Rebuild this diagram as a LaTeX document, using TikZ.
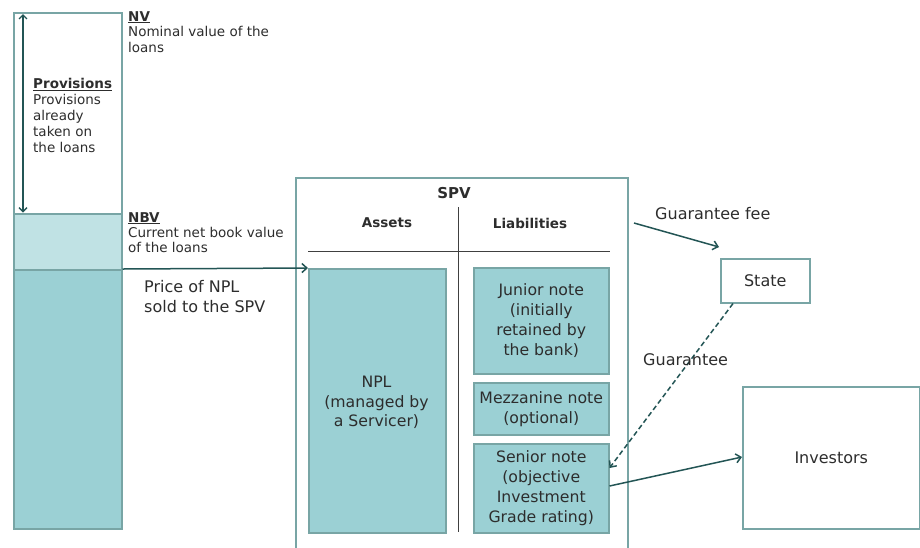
\documentclass[tikz,border=0pt]{standalone}
\usepackage{fontspec}
\setmainfont{DejaVu Sans}
\usetikzlibrary{arrows.meta}
\definecolor{tealfill}{RGB}{155,208,212}
\definecolor{lightfill}{RGB}{192,226,228}
\definecolor{bordercol}{RGB}{120,165,165}
\definecolor{arrowcol}{RGB}{35,85,85}
\definecolor{txt}{RGB}{45,45,45}
\tikzset{
  box/.style={draw=bordercol, line width=1.5pt, anchor=north west, inner sep=0pt, text=txt},
  note/.style={box, fill=tealfill, align=center, font=\fontsize{15.7}{20}\selectfont},
  small/.style={anchor=north west, inner sep=0pt, align=left, text=txt, font=\fontsize{13.5}{15.7}\selectfont},
  big/.style={anchor=north west, inner sep=0pt, align=left, text=txt, font=\fontsize{16}{20}\selectfont},
  head/.style={inner sep=0pt, text=txt, font=\bfseries\fontsize{13.5}{15}\selectfont},
  flow/.style={draw=arrowcol, line width=1.5pt, -{Straight Barb[length=5pt,width=9pt]}},
}
\begin{document}
\begin{tikzpicture}[x=1pt,y=-1pt]
\useasboundingbox (0,0) rectangle (920,547);
% left column
\node[box, minimum width=108, minimum height=201] (prov) at (13,12) {};
\node[box, fill=lightfill, minimum width=108, minimum height=56] (nbv) at (13,213) {};
\node[box, fill=tealfill, minimum width=108, minimum height=259] (bank) at (13,269) {};
\draw[draw=arrowcol, line width=1.4pt, {Straight Barb[length=4pt,width=8pt]}-{Straight Barb[length=4pt,width=8pt]}]
  ([xshift=10pt,yshift=-2pt]prov.north west) coordinate (pa) -- ([xshift=10pt,yshift=2pt]prov.south west) coordinate (pb);
\node[small] (nvt) at (128,11) {\textbf{\underline{NV}}\\Nominal value of the\\loans};
\node[small, font=\fontsize{13.5}{16}\selectfont] (provt) at (33,78) {\textbf{\underline{Provisions}}\\Provisions\\already\\taken on\\the loans};
\node[small, font=\fontsize{13.5}{15}\selectfont] (nbvt) at (128,212) {\textbf{\underline{NBV}}\\Current net book value\\of the loans};
% SPV
\node[box, minimum width=332, minimum height=390] (spv) at (295,177) {};
\node[head, font=\bfseries\fontsize{15}{17}\selectfont] (spvt) at (454,193) {SPV};
\node[head] (assets) at (387,223) {Assets};
\node[head] (liab) at (530,223) {Liabilities};
\coordinate (vt) at (458,207);
\coordinate (vb) at (458,532);
\coordinate (hl) at (308,251);
\coordinate (hr) at (610,251);
\draw[line width=0.8pt, black!75] (vt) -- (vb);
\draw[line width=0.8pt, black!75] (hl) -- (hr);
\node[note, minimum width=137, minimum height=264] (npl) at (308,268) {};
\node[text=txt, align=center, font=\fontsize{15.7}{19.5}\selectfont, anchor=north, inner sep=0pt] (nplt) at (376.5,376) {NPL\\(managed by\\a Servicer)};
\node[note, minimum width=135, minimum height=106] (jun) at (473,267) {Junior note\\(initially\\retained by\\the bank)};
\node[note, minimum width=135, minimum height=52] (mez) at (473,382) {Mezzanine note\\(optional)};
\node[note, minimum width=135, minimum height=89] (sen) at (473,443) {Senior note\\(objective\\Investment\\Grade rating)};
% right
\node[box, align=center, minimum width=89, minimum height=44, font=\fontsize{16}{18}\selectfont] (state) at (720,258) {State};
\node[box, align=center, minimum width=177, minimum height=142, font=\fontsize{16}{18}\selectfont] (inv) at (742,386) {Investors};
% arrows
\draw[flow] (bank.north east) -- (npl.north west);
\node[big] (price) at (144,280) {Price of NPL\\sold to the SPV};
\coordinate (gfs) at (634,223);
\coordinate (gfe) at (719,247);
\draw[flow] (gfs) -- (gfe);
\node[big] (gft) at (655,207) {Guarantee fee};
\draw[flow, dashed, dash pattern=on 5pt off 3pt] ([xshift=13pt]state.south west) -- ([yshift=-25pt]sen.north east);
\node[big] (gt) at (643,353) {Guarantee};
\draw[flow] ([yshift=-43pt]sen.north east) -- ([yshift=-71pt]inv.north west);
\end{tikzpicture}
\end{document}
